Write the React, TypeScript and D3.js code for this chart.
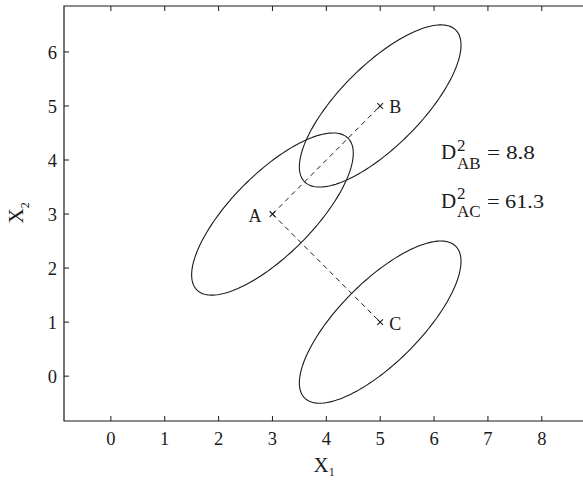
import React, { useEffect, useRef } from "react";
import * as d3 from "d3";

// axis ticks
const xTicks = [0, 1, 2, 3, 4, 5, 6, 7, 8];
const yTicks = [0, 1, 2, 3, 4, 5, 6];

// group centres
const pointNames = ["A", "B", "C"];
const pointX = [3, 5, 5];
const pointY = [3, 5, 1];

// shared covariance of the groups and the contour drawn
const varX1 = 0.52;
const varX2 = 0.52;
const covX12 = 0.39;
const contourLevel = 4.33;

// distances printed on the chart
const distPairs = ["AB", "AC"];
const distValues = ["8.8", "61.3"];

const App = () => {
  const ref = useRef<SVGSVGElement | null>(null);

  useEffect(() => {
    const width = 583;
    const height = 480;
    const margin = { top: 6, right: 0, bottom: 59, left: 64 };

    const x = d3
      .scaleLinear()
      .domain([-0.87, 8.765])
      .range([margin.left, width - margin.right]);
    const y = d3
      .scaleLinear()
      .domain([-0.83, 6.85])
      .range([height - margin.bottom, margin.top]);

    const svg = d3.select(ref.current);
    svg.selectAll("*").remove();

    const ink = "#1a1a1a";
    const font = "'Liberation Serif', 'Times New Roman', serif";

    // frame (left, top, bottom)
    const x0 = x.range()[0];
    const x1 = x.range()[1] + 2;
    const yTop = y.range()[1];
    const yBot = y.range()[0];
    svg
      .append("path")
      .attr("d", `M${x1},${yTop}H${x0}V${yBot}H${x1}`)
      .attr("fill", "none")
      .attr("stroke", ink)
      .attr("stroke-width", 1.2);

    // inward ticks
    const tickLen = 5;
    xTicks.forEach((t) => {
      svg
        .append("line")
        .attr("x1", x(t))
        .attr("x2", x(t))
        .attr("y1", yBot)
        .attr("y2", yBot - tickLen)
        .attr("stroke", ink);
      svg
        .append("line")
        .attr("x1", x(t))
        .attr("x2", x(t))
        .attr("y1", yTop)
        .attr("y2", yTop + tickLen)
        .attr("stroke", ink);
      svg
        .append("text")
        .attr("x", x(t))
        .attr("y", yBot + 23.5)
        .attr("text-anchor", "middle")
        .attr("font-family", font)
        .attr("font-size", 18.5)
        .attr("fill", ink)
        .text(t);
    });
    yTicks.forEach((t) => {
      svg
        .append("line")
        .attr("x1", x0)
        .attr("x2", x0 + tickLen)
        .attr("y1", y(t))
        .attr("y2", y(t))
        .attr("stroke", ink);
      svg
        .append("text")
        .attr("x", x0 - 7)
        .attr("y", y(t) + 7)
        .attr("text-anchor", "end")
        .attr("font-family", font)
        .attr("font-size", 18.5)
        .attr("fill", ink)
        .text(t);
    });

    // axis labels
    const xLab = svg
      .append("text")
      .attr("x", (x0 + x.range()[1]) / 2 - 10)
      .attr("y", 472)
      .attr("font-family", font)
      .attr("font-size", 21)
      .attr("fill", ink);
    xLab.append("tspan").text("X");
    xLab.append("tspan").attr("dy", 4).attr("font-size", 12).text("1");

    const yLab = svg
      .append("text")
      .attr("transform", `translate(23,${(yTop + yBot) / 2 + 10}) rotate(-90)`)
      .attr("font-family", font)
      .attr("font-size", 21)
      .attr("fill", ink);
    yLab.append("tspan").text("X");
    yLab.append("tspan").attr("dy", 6).attr("font-size", 12).text("2");

    // equal-distance ellipses from the shared covariance
    const a = varX1;
    const b = covX12;
    const c = varX2;
    const half = Math.sqrt(((a - c) / 2) ** 2 + b * b);
    const l1 = (a + c) / 2 + half;
    const l2 = (a + c) / 2 - half;
    const theta = 0.5 * Math.atan2(2 * b, a - c);
    const r1 = Math.sqrt(contourLevel * l1);
    const r2 = Math.sqrt(contourLevel * l2);
    const angles = d3.range(0, 2 * Math.PI, Math.PI / 90);

    const line = d3
      .line<number[]>()
      .x((d) => x(d[0]))
      .y((d) => y(d[1]))
      .curve(d3.curveLinearClosed);

    pointNames.forEach((_, i) => {
      const pts = angles.map((t) => {
        const u = r1 * Math.cos(t);
        const v = r2 * Math.sin(t);
        return [
          pointX[i] + u * Math.cos(theta) - v * Math.sin(theta),
          pointY[i] + u * Math.sin(theta) + v * Math.cos(theta),
        ];
      });
      svg
        .append("path")
        .attr("d", line(pts))
        .attr("fill", "none")
        .attr("stroke", ink)
        .attr("stroke-width", 1.1);
    });

    // dashed links from A to B and C
    [1, 2].forEach((j) => {
      svg
        .append("line")
        .attr("x1", x(pointX[0]))
        .attr("y1", y(pointY[0]))
        .attr("x2", x(pointX[j]))
        .attr("y2", y(pointY[j]))
        .attr("stroke", ink)
        .attr("stroke-width", 1)
        .attr("stroke-dasharray", "5,4");
    });

    // centre markers and names
    const m = 2.8;
    pointNames.forEach((name, i) => {
      const px = x(pointX[i]);
      const py = y(pointY[i]);
      svg
        .append("path")
        .attr("d", `M${px - m},${py - m}L${px + m},${py + m}M${px - m},${py + m}L${px + m},${py - m}`)
        .attr("stroke", ink)
        .attr("stroke-width", 1.1);
      const left = name === "A";
      svg
        .append("text")
        .attr("x", left ? px - 11 : px + 9)
        .attr("y", py + 7.5)
        .attr("text-anchor", left ? "end" : "start")
        .attr("font-family", font)
        .attr("font-size", 18)
        .attr("fill", ink)
        .text(name);
    });

    // distance annotations
    const valueWidths = [48, 57];
    distPairs.forEach((pair, i) => {
      const base = 159 + i * 48.5;
      const g = svg
        .append("g")
        .attr("font-family", font)
        .attr("fill", ink);
      g.append("text").attr("x", 441).attr("y", base).attr("font-size", 21).text("D");
      g.append("text").attr("x", 457).attr("y", base - 8.5).attr("font-size", 17).text("2");
      g.append("text").attr("x", 457).attr("y", base + 9.5).attr("font-size", 17).text(pair);
      g.append("text")
        .attr("x", 487)
        .attr("y", base)
        .attr("font-size", 18)
        .attr("textLength", valueWidths[i])
        .attr("lengthAdjust", "spacingAndGlyphs")
        .text(`= ${distValues[i]}`);
    });
  }, []);

  return (
    <svg
      ref={ref}
      width={583}
      height={480}
      style={{ position: "absolute", left: 0, top: 0, background: "#fff" }}
    />
  );
};

export default App;
